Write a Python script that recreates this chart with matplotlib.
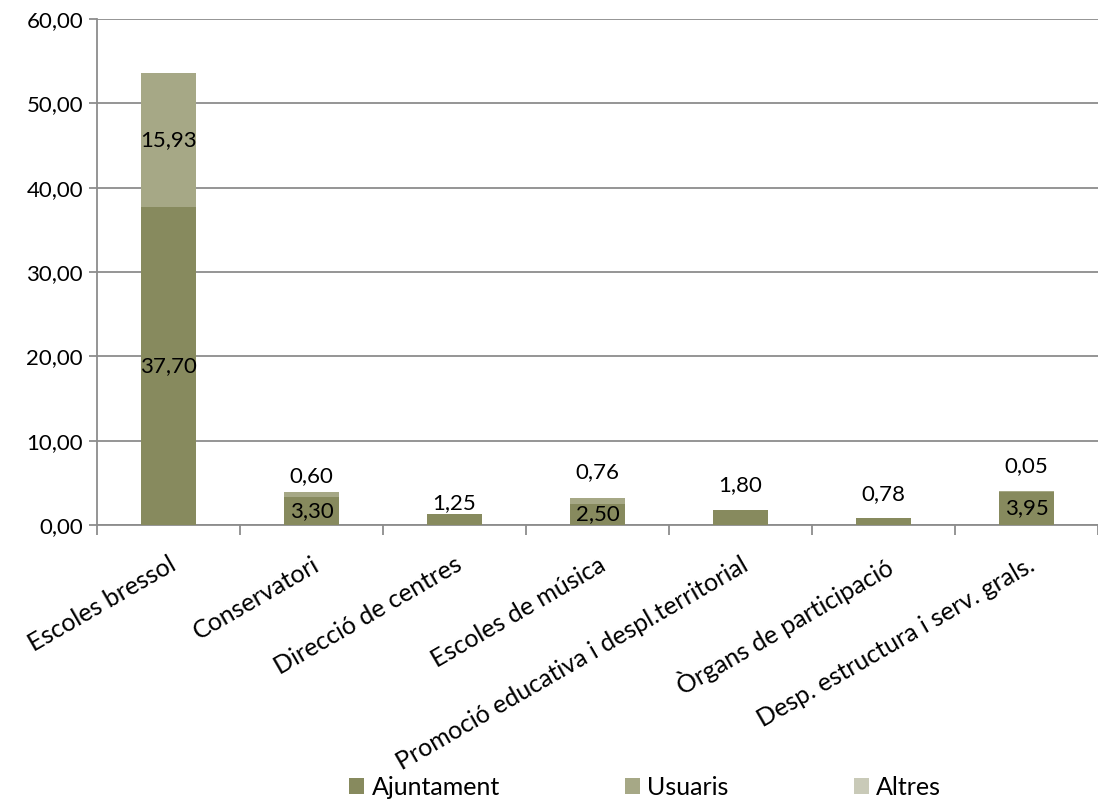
import matplotlib
matplotlib.use("Agg")
import matplotlib.pyplot as plt
import numpy as np

categories = ["Escoles bressol", "Conservatori", "Direcció de centres", "Escoles de música",
              "Promoció educativa i despl.territorial", "Òrgans de participació",
              "Desp. estructura i serv. grals."]
ajuntament = [37.70, 3.30, 1.25, 2.50, 1.80, 0.78, 3.95]
usuaris = [15.93, 0.60, 0.0, 0.76, 0.0, 0.0, 0.05]
altres = [0.0, 0.0, 0.0, 0.0, 0.0, 0.0, 0.0]
yticks = [0, 10, 20, 30, 40, 50, 60]

col_aj = "#878A5E"
col_us = "#A6A886"
col_al = "#C9CAB8"

plt.rcParams['font.family'] = ['Lato', 'DejaVu Sans']

fig = plt.figure(figsize=(10.98, 8.05), dpi=100)
ax = fig.add_axes([97/1098, 1-525/805, 1001/1098, (525-19)/805])

x = np.arange(len(categories))
w = 0.39
aj = np.array(ajuntament)
us = np.array(usuaris)
al = np.array(altres)
ax.bar(x, aj, w, color=col_aj, label="Ajuntament", zorder=3)
ax.bar(x, us, w, bottom=aj, color=col_us, label="Usuaris", zorder=3)
ax.bar(x, al, w, bottom=aj+us, color=col_al, label="Altres", zorder=3)

def fmt(v):
    return f"{v:.2f}".replace(".", ",")

fs_tick = 16
fs_lab = 16
fs_cat = 18
fs_leg = 18
tot = aj + us + al
for i in range(len(categories)):
    if aj[i] >= 2.0:
        ax.text(x[i], aj[i]/2, fmt(aj[i]), ha="center", va="center", fontsize=fs_lab, zorder=4)
    else:
        off = 1.3 if i == 2 else 2.9
        ax.text(x[i], tot[i] + off, fmt(aj[i]), ha="center", va="center", fontsize=fs_lab, zorder=4)
    if us[i] > 0:
        if us[i] >= 2.0:
            ax.text(x[i], aj[i] + us[i]/2, fmt(us[i]), ha="center", va="center", fontsize=fs_lab, zorder=4)
        else:
            off = 1.9 if i == 1 else 3.0
            ax.text(x[i], tot[i] + off, fmt(us[i]), ha="center", va="center", fontsize=fs_lab, zorder=4)

ax.set_xlim(-0.5, len(categories)-0.5)
ax.set_ylim(0, 60)
ax.set_yticks(yticks)
ax.set_yticklabels([fmt(v) for v in yticks], fontsize=fs_tick)
ax.yaxis.grid(True, color="#8C8C8C", linewidth=1.3, zorder=0)
ax.set_axisbelow(True)
for s in ["top", "right"]:
    ax.spines[s].set_visible(False)
ax.spines["left"].set_color("#8C8C8C")
ax.spines["bottom"].set_color("#8C8C8C")
ax.spines["left"].set_linewidth(1.3)
ax.spines["bottom"].set_linewidth(1.3)
ax.tick_params(axis="y", length=6, width=1.3, color="#8C8C8C", pad=4, direction="out")
ax.set_xticks(np.arange(len(categories)+1) - 0.5, minor=True)
ax.set_xticks(x)
ax.set_xticklabels(categories, rotation=30, ha="right", rotation_mode="anchor", fontsize=fs_cat)
ax.tick_params(axis="x", which="major", length=0, pad=20)
ax.tick_params(axis="x", which="minor", length=7, width=1.3, color="#8C8C8C")

handles, labels = ax.get_legend_handles_labels()
fig.legend(handles, labels, loc="center", bbox_to_anchor=(645/1098, 1-787/805), ncol=3,
           frameon=False, fontsize=fs_leg, handlelength=0.6, handleheight=0.6,
           handletextpad=0.3, columnspacing=5.0)

fig.savefig("out.png", dpi=100)
